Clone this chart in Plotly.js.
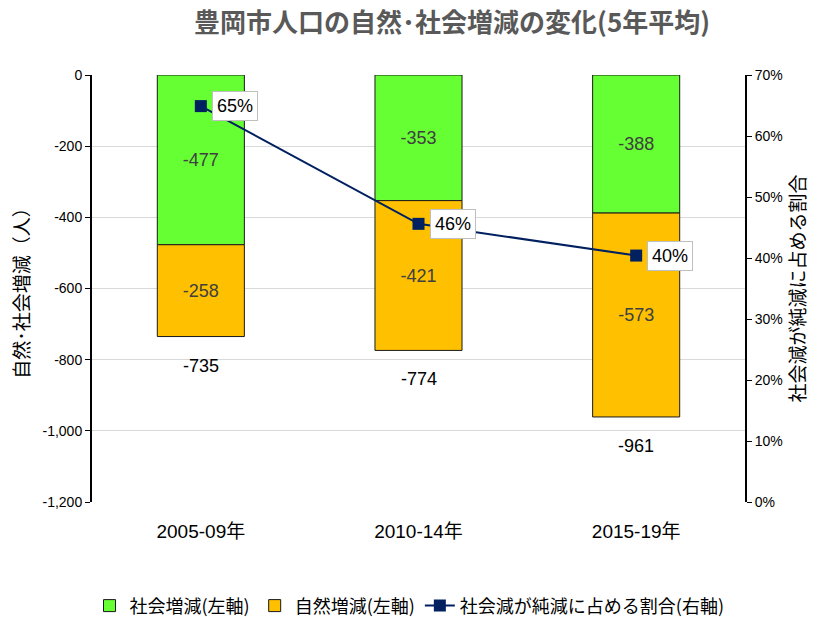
<!DOCTYPE html>
<html><head><meta charset="utf-8">
<script src="https://cdn.plot.ly/plotly-3.0.1.min.js"></script>
<style>html,body{margin:0;padding:0;background:#fff}</style>
</head><body>
<div id="chart" style="width:819px;height:617px"></div>
<script>
const categories = ["2005-09年", "2010-14年", "2015-19年"];
const socialChange = [-477, -353, -388];
const naturalChange = [-258, -421, -573];
const totalChange = [-735, -774, -961];
const socialShare = [0.649, 0.456, 0.404];
const shareLabels = ["65%", "46%", "40%"];
const leftTicks = [0, -200, -400, -600, -800, -1000, -1200];
const leftTickText = ["0", "-200", "-400", "-600", "-800", "-1,000", "-1,200"];

const FONT = "Liberation Sans, Arial, 'Noto Sans CJK JP', sans-serif";
const JFONT = "'Noto Sans CJK JP', sans-serif";

const traces = [
  {type: "bar", name: "社会増減(左軸)", x: categories, y: socialChange,
   marker: {color: "#66FF33", line: {color: "#1a1a1a", width: 1}},
   text: socialChange.map(String), textposition: "inside", insidetextanchor: "middle",
   textfont: {family: FONT, size: 18, color: "#404040"}, width: 0.4, hoverinfo: "skip"},
  {type: "bar", name: "自然増減(左軸)", x: categories, y: naturalChange,
   marker: {color: "#FFC000", line: {color: "#1a1a1a", width: 1}},
   text: naturalChange.map(String), textposition: "inside", insidetextanchor: "middle",
   textfont: {family: FONT, size: 18, color: "#404040"}, width: 0.4, hoverinfo: "skip"},
  {type: "scatter", mode: "lines+markers", name: "社会減が純減に占める割合(右軸)",
   x: categories, y: socialShare, yaxis: "y2",
   line: {color: "#002060", width: 2}, marker: {symbol: "square", size: 12, color: "#002060"}}
];

const annotations = [];
categories.forEach((c, i) => {
  annotations.push({x: c, y: totalChange[i], xref: "x", yref: "y", text: String(totalChange[i]),
    showarrow: false, yanchor: "top", yshift: -17, font: {family: FONT, size: 18, color: "#000"}});
  annotations.push({x: c, y: socialShare[i], xref: "x", yref: "y2", text: shareLabels[i],
    showarrow: false, xanchor: "left", xshift: 11, bgcolor: "#fff", bordercolor: "#bfbfbf",
    borderwidth: 1, borderpad: 4, font: {family: FONT, size: 18, color: "#000"}});
});

const layout = {
  width: 819, height: 617,
  margin: {l: 92, r: 74, t: 75, b: 115},
  paper_bgcolor: "#fff", plot_bgcolor: "#fff",
  barmode: "relative", bargap: 0.6,
  showlegend: true,
  title: {text: "<b>豊岡市人口の自然･社会増減の変化(5年平均)</b>", x: 0.552, xanchor: "center", y: 0.963, yanchor: "middle",
    font: {family: JFONT, size: 26, color: "#595959"}},
  xaxis: {type: "category", tickfont: {family: FONT, size: 19, color: "#000"}, showline: false,
    ticks: "", ticklabelstandoff: 16, showgrid: false, zeroline: false, automargin: false},
  yaxis: {range: [-1200, 0], tickvals: leftTicks, ticktext: leftTickText, showline: true, linecolor: "#000", linewidth: 2,
    ticks: "outside", ticklen: 5, tickcolor: "#000", gridcolor: "#d9d9d9", zeroline: false, automargin: false,
    tickfont: {family: FONT, size: 14, color: "#000"},
    title: {text: "自然･社会増減（人）", font: {family: JFONT, size: 19, color: "#000"}, standoff: 8}},
  yaxis2: {overlaying: "y", side: "right", range: [0, 0.7], dtick: 0.1, tickformat: ".0%", showgrid: false,
    showline: true, linecolor: "#000", linewidth: 2, ticks: "outside", ticklen: 5, tickcolor: "#000", zeroline: false,
    automargin: false, tickfont: {family: FONT, size: 14, color: "#000"},
    title: {text: "社会減が純減に占める割合", font: {family: JFONT, size: 19, color: "#000"}, standoff: 8}},
  legend: {orientation: "h", x: 0.5, xanchor: "center", xref: "container", yref: "container", y: 0.018, yanchor: "middle",
    traceorder: "normal", font: {family: JFONT, size: 18, color: "#000"}},
  annotations: annotations
};

Plotly.newPlot("chart", traces, layout, {displayModeBar: false});
</script>
</body></html>
